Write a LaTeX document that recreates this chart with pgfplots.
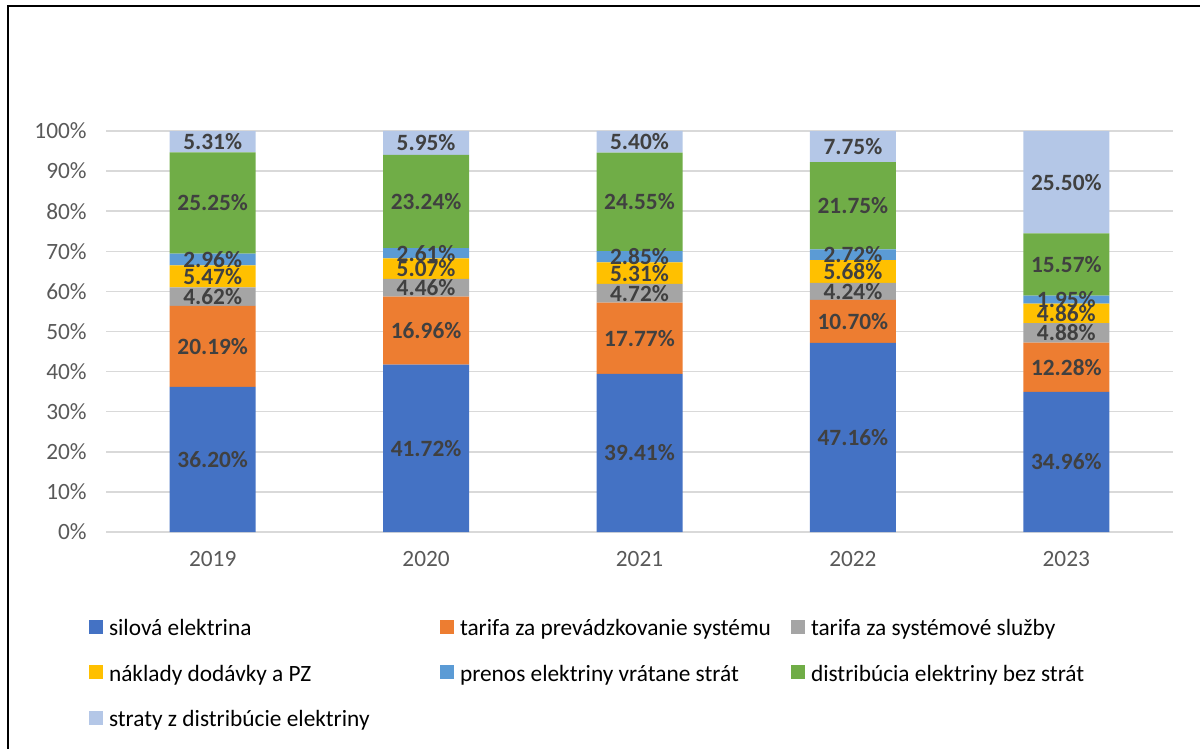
\documentclass[border=0pt]{standalone}
\usepackage{pgfplots}
\pgfplotsset{compat=1.18}
\usepackage{fontspec}
\setmainfont{Carlito}

\definecolor{c1}{HTML}{4472C4}
\definecolor{c2}{HTML}{ED7D31}
\definecolor{c3}{HTML}{A5A5A5}
\definecolor{c4}{HTML}{FFC000}
\definecolor{c5}{HTML}{5B9BD5}
\definecolor{c6}{HTML}{70AD47}
\definecolor{c7}{HTML}{B4C7E7}
\definecolor{gridgray}{HTML}{D9D9D9}
\definecolor{tickgray}{HTML}{595959}
\definecolor{labgray}{HTML}{404040}

% legend columns have equal fixed widths, like in the original
\newcommand{\la}[1]{\makebox[248.25pt][l]{#1\strut}}

\pgfplotsset{sqlegend/.style={legend image code/.code={\fill[##1,draw=none] (0pt,-5.25pt) rectangle (10.5pt,5.25pt);}}}

\begin{document}
\begin{tikzpicture}
\useasboundingbox (0,0) rectangle (900pt,-561.75pt);
\draw[line width=1.5pt] (6pt,-570pt) -- (6pt,-4.5pt) -- (910pt,-4.5pt);
\begin{axis}[
    at={(79.5pt,-399pt)}, anchor=south west,
    scale only axis, width=800.25pt, height=300.75pt,
    ybar stacked, bar width=64.5pt,
    every axis plot/.append style={sqlegend},
    xmin=-0.5, xmax=4.5, ymin=0, ymax=100,
    xtick={0,...,4}, xticklabels={2019,2020,2021,2022,2023},
    ytick={0,10,...,100},
    yticklabel={\pgfmathprintnumber{\tick}\%},
    /pgf/number format/assume math mode=true,
    major tick length=0pt,
    ymajorgrids, grid style={draw=gridgray, line width=1.1pt},
    axis line style={draw=none},
    tick label style={font=\fontsize{17.5}{21}\selectfont, text=tickgray},
    yticklabel style={xshift=-11pt},
    xticklabel style={yshift=-11pt},
    point meta=rawy,
    nodes near coords={\pgfmathprintnumber[fixed,fixed zerofill,precision=2]{\pgfplotspointmeta}\%},
    every node near coord/.append style={font=\bfseries\fontsize{17.5}{21}\selectfont, text=labgray, anchor=center},
    legend columns=3,
    legend cell align=left,
    legend style={draw=none, fill=none, at={(-0.01593,-0.2095)}, anchor=north west,
        font=\fontsize{17.5}{21}\selectfont, inner sep=0pt, outer sep=0pt, row sep=18pt,
        nodes={inner sep=0pt},
        /tikz/every odd column/.append style={column sep=4.5pt},
        /tikz/every even column/.append style={column sep=0pt}},
    clip=false,
]
\addplot[fill=c1, draw=none] coordinates {(0,36.20) (1,41.72) (2,39.41) (3,47.16) (4,34.96)};
\addplot[fill=c2, draw=none] coordinates {(0,20.19) (1,16.96) (2,17.77) (3,10.70) (4,12.28)};
\addplot[fill=c3, draw=none] coordinates {(0,4.62) (1,4.46) (2,4.72) (3,4.24) (4,4.88)};
\addplot[fill=c4, draw=none] coordinates {(0,5.47) (1,5.07) (2,5.31) (3,5.68) (4,4.86)};
\addplot[fill=c5, draw=none] coordinates {(0,2.96) (1,2.61) (2,2.85) (3,2.72) (4,1.95)};
\addplot[fill=c6, draw=none] coordinates {(0,25.25) (1,23.24) (2,24.55) (3,21.75) (4,15.57)};
\addplot[fill=c7, draw=none] coordinates {(0,5.31) (1,5.95) (2,5.40) (3,7.75) (4,25.50)};
\legend{\la{silová elektrina}, \la{tarifa za prevádzkovanie systému}, tarifa za systémové služby\strut,
        \la{náklady dodávky a PZ}, \la{prenos elektriny vrátane strát}, distribúcia elektriny bez strát\strut,
        \la{straty z distribúcie elektriny}}
\end{axis}
\end{tikzpicture}
\end{document}
